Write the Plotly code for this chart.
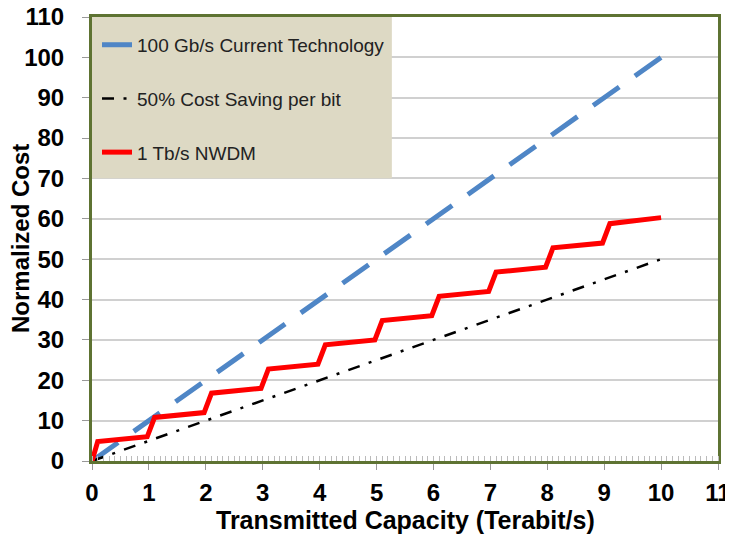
import plotly.graph_objects as go

# data
cap_line = [0, 10]
cost_100g = [0, 100]
cost_half = [0, 50]

nwdm_x = [0, 0.1, 0.97, 1.1, 1.97, 2.1, 2.97, 3.1, 3.97, 4.1, 4.97, 5.1,
          5.97, 6.1, 6.97, 7.1, 7.97, 8.1, 8.97, 9.1, 10.0]
nwdm_y = [0, 4.8, 6.0, 10.8, 12.0, 16.8, 18.0, 22.8, 24.0, 28.8, 30.0, 34.8,
          36.0, 40.8, 42.0, 46.8, 48.0, 52.8, 54.0, 58.8, 60.3]

x_ticks = list(range(0, 12))
y_ticks = list(range(0, 120, 10))

FONT = "Liberation Sans, Arial, sans-serif"
FRAME = "#5e7332"

trace_100g = go.Scatter(
    x=cap_line, y=cost_100g, mode="lines",
    name="100 Gb/s Current Technology", legendgroup="a",
    line=dict(color="#4f86c6", width=5, dash="32px,19.2px"),
)
trace_half = go.Scatter(
    x=cap_line, y=cost_half, mode="lines",
    name="50% Cost Saving per bit", legendgroup="b",
    line=dict(color="black", width=2.5, dash="12px,9.5px,3px,9.5px"),
)
trace_nwdm = go.Scatter(
    x=nwdm_x, y=nwdm_y, mode="lines",
    name="1 Tb/s NWDM", legendgroup="c",
    line=dict(color="#ff0000", width=5),
)

# the page body adds an 8px margin, so the figure is shifted by 8px
layout = go.Layout(
    width=725, height=526,
    margin=dict(l=84, r=15, t=9, b=73),
    paper_bgcolor="white", plot_bgcolor="white",
    font=dict(family=FONT, color="black"),
    xaxis=dict(
        range=[0, 11], tickvals=x_ticks, showgrid=False, zeroline=False, automargin=False,
        showline=True, mirror=True, linecolor=FRAME, linewidth=3,
        ticks="outside", ticklen=6, tickcolor="#999999", ticklabelstandoff=2,
        ticklabeloverflow="allow",
        tickfont=dict(size=24, family=FONT, weight="bold"),
        minor=dict(dtick=0.1, ticks="inside", ticklen=5, tickcolor="#bbbbbb", showgrid=False),
    ),
    yaxis=dict(
        range=[0, 110], tickvals=y_ticks, showgrid=True, gridcolor="#d0d0d0", gridwidth=1.5,
        zeroline=False, showline=True, mirror=True, linecolor=FRAME, linewidth=3, automargin=False,
        ticks="outside", ticklen=7, tickcolor="#999999", ticklabelstandoff=13,
        ticklabeloverflow="allow",
        tickfont=dict(size=24, family=FONT, weight="bold"),
    ),
    annotations=[
        dict(text="<b>Transmitted Capacity (Terabit/s)</b>", xref="x domain", yref="y domain",
             x=0.5, y=-0.133, xanchor="center", yanchor="middle", showarrow=False,
             font=dict(size=25, family=FONT, color="black")),
        dict(text="<b>Normalized Cost</b>", xref="x domain", yref="y domain",
             x=-0.115, y=0.5, xanchor="center", yanchor="middle", showarrow=False,
             textangle=-90, font=dict(size=24, family=FONT, color="black")),
    ],
    legend=dict(
        x=0.008, y=0.98, xanchor="left", yanchor="top",
        bgcolor="rgba(0,0,0,0)", traceorder="grouped", tracegroupgap=26,
        font=dict(size=19, family=FONT, color="#222222"),
    ),
    shapes=[dict(
        type="rect", xref="x domain", yref="y domain",
        x0=0, x1=0.479, y0=0.637, y1=1, layer="above",
        fillcolor="#ddd9c4", line=dict(width=0),
    )],
)

fig = go.Figure(data=[trace_100g, trace_half, trace_nwdm], layout=layout)
fig.write_html("out.html")
